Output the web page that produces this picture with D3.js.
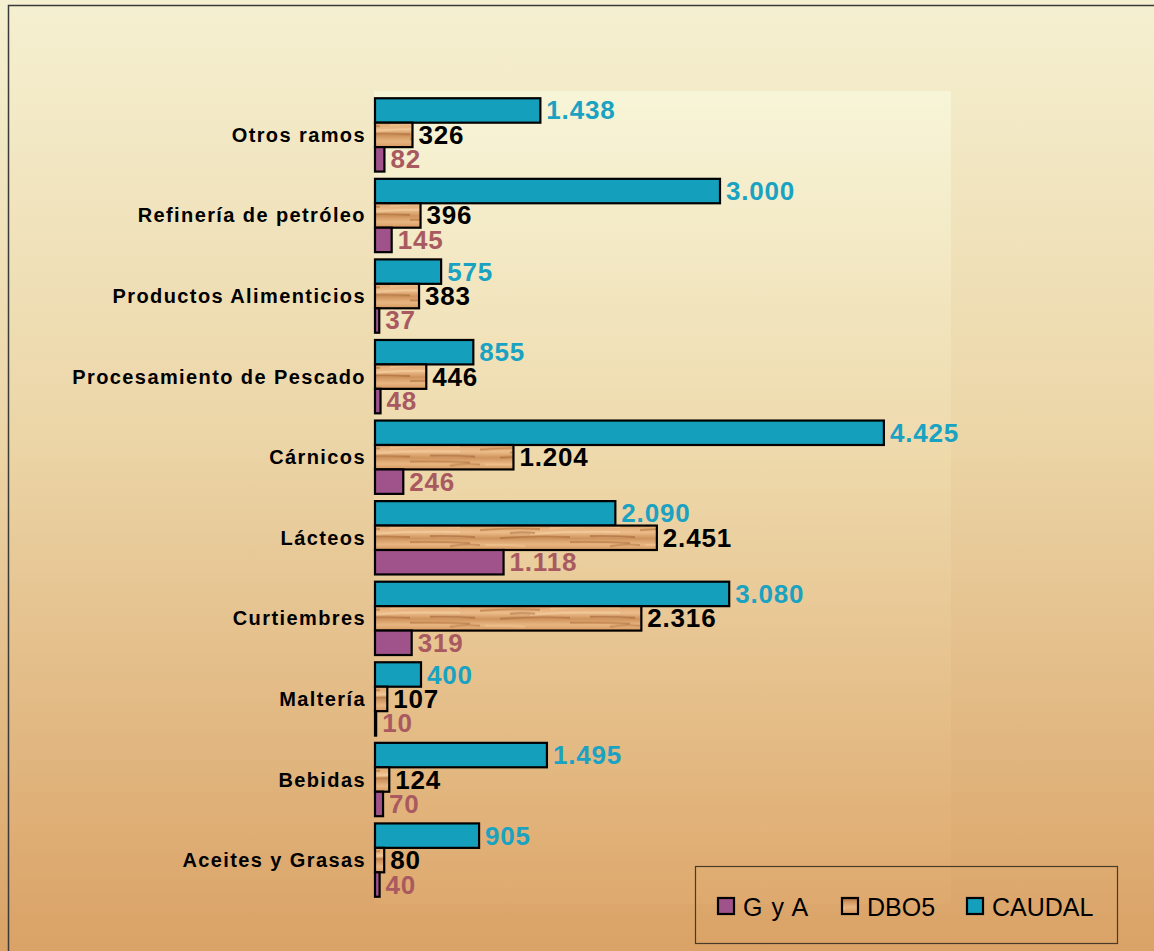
<!DOCTYPE html>
<html>
<head>
<meta charset="utf-8">
<script src="https://cdn.jsdelivr.net/npm/d3@7"></script>
<style>
  body { margin: 0; background: #fff; }
  text { font-family: "Liberation Sans", Arial, sans-serif; }
</style>
</head>
<body>
<div id="chart"></div>
<script>
var width = 1154,
    height = 951;

// data, top to bottom
var categories = ['Otros ramos', 'Refinería de petróleo', 'Productos Alimenticios',
    'Procesamiento de Pescado', 'Cárnicos', 'Lácteos', 'Curtiembres',
    'Maltería', 'Bebidas', 'Aceites y Grasas'];
var series = ['CAUDAL', 'DBO5', 'G y A'];
var caudal = [1438, 3000, 575, 855, 4425, 2090, 3080, 400, 1495, 905];
var dbo5 = [326, 396, 383, 446, 1204, 2451, 2316, 107, 124, 80];
var gya = [82, 145, 37, 48, 246, 1118, 319, 10, 70, 40];
var legendOrder = ['G y A', 'DBO5', 'CAUDAL'];

var values = { 'CAUDAL': caudal, 'DBO5': dbo5, 'G y A': gya };
var fill = { 'CAUDAL': '#14a0bc', 'DBO5': 'url(#wood)', 'G y A': '#a0528a' };
var labelColor = { 'CAUDAL': '#1aa2c2', 'DBO5': '#000', 'G y A': '#a85a60' };

var locale = d3.formatLocale({ decimal: ',', thousands: '.', grouping: [3], currency: ['', ''] });
var fmt = locale.format(',');

var svg = d3.select('#chart')
    .append('svg')
    .attr('width', width)
    .attr('height', height);

var defs = svg.append('defs');

var bg = defs.append('linearGradient').attr('id', 'bg')
    .attr('x1', 0).attr('y1', 0).attr('x2', 0).attr('y2', 1);
bg.append('stop').attr('offset', '0%').attr('stop-color', '#f5f0d1');
bg.append('stop').attr('offset', '45%').attr('stop-color', '#ecd6a8');
bg.append('stop').attr('offset', '100%').attr('stop-color', '#daa266');

var pg = defs.append('linearGradient').attr('id', 'plotbg')
    .attr('x1', 0).attr('y1', 0).attr('x2', 0).attr('y2', 1);
pg.append('stop').attr('offset', '0%').attr('stop-color', '#f7f5d8');
pg.append('stop').attr('offset', '45%').attr('stop-color', '#eed9ab');
pg.append('stop').attr('offset', '100%').attr('stop-color', '#dea96e');

// wood texture for DBO5
var wg = defs.append('linearGradient').attr('id', 'woodbase')
    .attr('x1', 0).attr('y1', 0).attr('x2', 0).attr('y2', 1);
wg.append('stop').attr('offset', '0%').attr('stop-color', '#dfa46c');
wg.append('stop').attr('offset', '30%').attr('stop-color', '#ecbd8a');
wg.append('stop').attr('offset', '55%').attr('stop-color', '#cf935c');
wg.append('stop').attr('offset', '80%').attr('stop-color', '#e8b682');
wg.append('stop').attr('offset', '100%').attr('stop-color', '#d99c63');

var wood = defs.append('pattern').attr('id', 'wood')
    .attr('patternUnits', 'userSpaceOnUse')
    .attr('width', 160).attr('height', 24);
wood.append('rect').attr('width', 160).attr('height', 24).attr('fill', 'url(#woodbase)');
var streaks = [
    [0, 5, 60, 4, '#a8642f', 0.55], [50, 9, 90, 7, '#f6d4a6', 0.6],
    [20, 13, 70, 12, '#9a5a2a', 0.5], [90, 17, 60, 18, '#a8642f', 0.5],
    [5, 20, 40, 21, '#f3cc9a', 0.5], [70, 3, 70, 2, '#f5d2a2', 0.5],
    [110, 11, 45, 12, '#8f5025', 0.45], [30, 8, 25, 8, '#8f5025', 0.4],
    [130, 21, 30, 20, '#9a5a2a', 0.4]
];
streaks.forEach(function(s) {
    wood.append('path')
        .attr('d', 'M' + s[0] + ',' + s[1] + ' q' + (s[2] / 2) + ',' + (s[3] - s[1] - 1.5) + ' ' + s[2] + ',' + (s[3] - s[1]))
        .attr('stroke', s[4]).attr('stroke-width', 1.8).attr('fill', 'none')
        .attr('opacity', s[5]);
});

// background and frame
svg.append('rect').attr('width', width).attr('height', height).attr('fill', 'url(#bg)');
svg.append('rect')
    .attr('x', 8.5).attr('y', 5.5)
    .attr('width', 1300).attr('height', 1100)
    .attr('fill', 'none').attr('stroke', '#3a3a3a').attr('stroke-width', 1.5);

var plot = { left: 374, right: 951, top: 91, bottom: 904 };

svg.append('rect')
    .attr('x', plot.left).attr('y', plot.top)
    .attr('width', plot.right - plot.left).attr('height', plot.bottom - plot.top)
    .attr('fill', 'url(#plotbg)');

var x = d3.scaleLinear().domain([0, 5000]).range([375, 950]);
var y0 = d3.scaleBand().domain(categories).range([plot.top, plot.bottom]).padding(0.09);
var y1 = d3.scaleBand().domain(series).range([0, y0.bandwidth()]);

var groups = svg.selectAll('g.cat')
    .data(categories)
    .enter()
    .append('g')
    .attr('class', 'cat')
    .attr('transform', d => 'translate(0,' + y0(d) + ')');

var bars = groups.selectAll('g.bar')
    .data((d, i) => series.map(s => ({ s: s, v: values[s][i] })))
    .enter()
    .append('g')
    .attr('class', 'bar');

bars.append('rect')
    .attr('x', x(0))
    .attr('y', d => y1(d.s))
    .attr('width', d => Math.max(x(d.v) - x(0), 1))
    .attr('height', y1.bandwidth())
    .attr('fill', d => fill[d.s])
    .attr('stroke', '#000')
    .attr('stroke-width', 2.2);

bars.append('text')
    .attr('x', d => x(d.v) + 6)
    .attr('y', d => y1(d.s) + y1.bandwidth() / 2 + 9)
    .attr('fill', d => labelColor[d.s])
    .style('font-size', '26px')
    .style('font-weight', 'bold')
    .style('letter-spacing', '0.8px')
    .text(d => fmt(d.v));

groups.append('text')
    .attr('x', 366)
    .attr('y', y1('DBO5') + y1.bandwidth() / 2 + 7)
    .attr('text-anchor', 'end')
    .style('font-size', '20px')
    .style('font-weight', 'bold')
    .style('letter-spacing', '1.4px')
    .text(d => d);

// legend
var legend = svg.append('g');
legend.append('rect')
    .attr('x', 695.5).attr('y', 866.5)
    .attr('width', 422).attr('height', 77)
    .attr('fill', 'none')
    .attr('stroke', '#4a3a2a').attr('stroke-width', 1.2);

var legendX = { 'G y A': 718, 'DBO5': 842, 'CAUDAL': 967 };
var items = legend.selectAll('g.item')
    .data(legendOrder)
    .enter()
    .append('g')
    .attr('class', 'item');

items.append('rect')
    .attr('x', d => legendX[d])
    .attr('y', 898)
    .attr('width', 16).attr('height', 16)
    .attr('fill', d => fill[d])
    .attr('stroke', '#000').attr('stroke-width', 2.2);

items.append('text')
    .attr('x', d => legendX[d] + 25)
    .attr('y', 916)
    .style('font-size', '25px')
    .style('word-spacing', '2px')
    .attr('fill', '#000')
    .text(d => d);
</script>
</body>
</html>
